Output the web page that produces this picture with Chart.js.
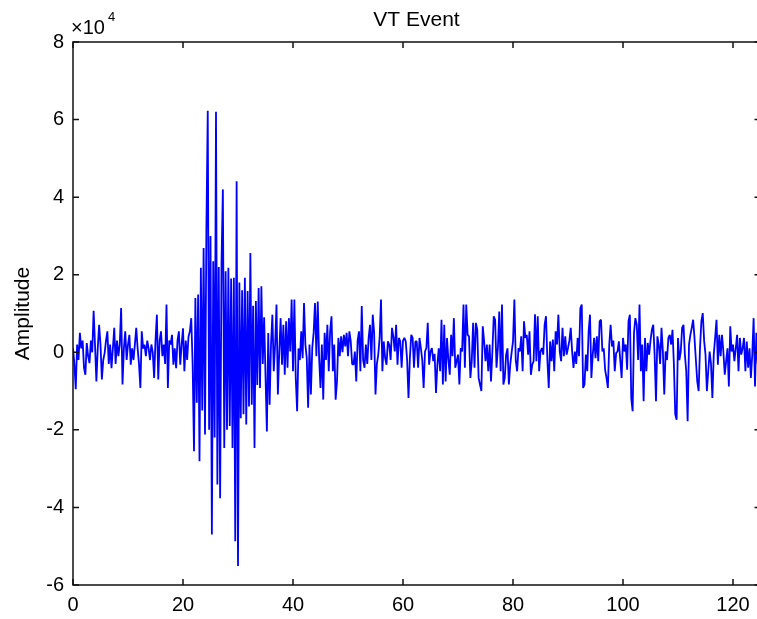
<!DOCTYPE html>
<html><head><meta charset="utf-8">
<script src="https://cdn.jsdelivr.net/npm/chart.js@4.4.1/dist/chart.umd.min.js"></script>
<style>
html,body{margin:0;padding:0;background:#fff;overflow:hidden;width:757px;height:619px;}
#wrap{position:relative;width:765px;height:619px;}
canvas{display:block;}
</style></head><body>
<div id="wrap"><canvas id="c" width="765" height="619"></canvas></div>
<script>
// Sample interval of the trace (time units per sample)
const dt = 0.25;
// Amplitude samples, in units of 10^4
const amplitude = [
0.1,-0.3,-0.95,0.2, -0.2,0.5,0.1,0.3, -0.4,-0.58,0.24,-0.1, -0.28,0.3,0.0,1.07,
0.2,-0.75,0.1,0.71, 0.2,-0.7,-0.2,-0.02, 0.3,0.54,-0.3,0.2, -0.41,0.1,0.63,-0.3,
0.3,-0.1,0.2,1.14, -0.83,0.1,0.54,-0.2, 0.2,0.45,-0.32,0.1, -0.2,0.2,0.63,0.1,
-0.3,-0.92,0.54,0.1, 0.2,-0.1,0.3,0.1, -0.2,0.2,0.0,-0.66, 0.3,0.97,-0.7,0.3,
0.54,-0.1,0.2,-0.3, 1.23,-0.92,0.3,0.2, 0.45,-0.32,0.1,-0.41, 0.3,0.54,-0.32,0.2,
0.62,-0.49,0.3,-0.2, 0.4,0.54,0.88,-0.3,
-2.55,1.4,-1.3,1.49, -2.81,2.18,-1.5,2.69, -2.12,3.16,6.23,-2.0, 3.0,-4.7,2.35,-2.2,
6.2,-3.41,2.2,-3.76, 2.3,4.2,-2.47,2.09, -2.0,2.18,-1.9,1.9, -2.47,1.92,-4.87,4.41,
-5.51,1.8,-1.7,1.6, -1.6,1.92,-1.86,1.58, -1.4,2.56,-1.35,1.2, -2.47,1.32,-0.84,1.66,
-0.92,1.70,-0.3,0.9, -0.6,-2.04,0.5,-1.35, 0.2,0.97,-0.49,0.2, 1.23,-1.09,0.0,0.88,
-0.32,0.71,-0.58,0.8, -0.4,0.88,0.02,1.36, -0.49,1.36,-0.66,-1.52, 0.1,-0.2,0.54,-0.15,
1.27,0.2,-0.15,-1.43, 0.2,-1.09,0.11,0.5, 1.27,-0.1,1.31,-0.15, -0.92,0.2,-1.22,0.5,
-0.2,0.71,-0.49,0.54, 0.93,-0.49,0.2,-1.22, -0.75,0.37,-0.1,0.41, 0.0,0.45,0.15,0.5,
-0.1,0.54,0.28,-0.3, -0.32,0.02,-0.75,0.3, 0.54,-0.49,1.19,-0.2, -0.4,0.2,-0.3,0.37,
0.71,-0.2,0.97,0.5, -1.09,-0.3,-0.06,0.37, 1.36,-0.49,0.28,-0.15, -0.32,0.28,0.2,-0.2,
0.63,0.4,0.02,0.71, -0.32,0.37,0.28,-0.4, 0.3,0.37,0.28,-0.2, -1.18,-0.15,0.45,0.37,
-0.4,0.28,0.28,-0.4, 0.37,0.11,-0.2,-0.92, 0.02,0.11,0.76,-0.32, 0.02,0.11,-0.23,-0.04,
-1.05,-0.32,0.1,-0.49, 0.84,-0.83,0.71,-0.75, 0.37,-0.19,-0.58,0.45, -0.1,0.88,-0.4,-0.23,
-0.06,-0.83,0.11,0.02, 1.23,-0.4,1.23,0.45, 0.41,-0.66,-0.23,0.76, -0.4,0.76,0.58,-0.66,
-0.83,-1.0,0.67,0.28, -0.23,0.2,-0.49,0.2, -0.75,0.02,0.93,0.84, -0.4,0.11,1.05,-0.49,
1.23,-0.83,-0.66,-0.06, 0.1,-0.83,-0.32,0.0, 0.28,1.36,-0.2,-0.49, 0.11,0.02,0.41,-0.49,
0.8,0.37,0.45,-0.06, 0.54,-0.58,-0.32,-0.23, 0.98,-0.23,0.93,-0.49, 0.02,0.11,-0.06,0.71,
0.93,-0.2,-0.92,0.28, -0.23,0.33,-0.49,0.54, 0.2,0.97,0.02,-0.23, 0.63,-0.1,0.41,-0.06,
0.11,0.3,0.63,0.02, -0.4,0.02,-0.3,0.37, -0.1,1.14,1.23,-0.92, -0.83,-0.06,-0.49,0.54,
0.97,-0.66,-0.06,0.37, -0.15,0.41,-0.23,0.8, 0.84,0.02,0.1,-0.45, -0.66,-0.92,0.2,0.71,
0.15,0.3,-0.49,-0.02, 0.02,0.28,-0.2,-0.66, 0.37,0.02,0.2,-0.45, 0.8,0.97,-1.18,-1.52,
0.5,0.88,0.71,-0.2, 1.23,-0.49,0.2,-1.26, 0.37,-0.49,0.24,-0.06, 0.3,0.58,0.71,-0.06,
-1.26,0.41,0.2,-0.3, 0.63,0.02,-1.09,0.02, -0.2,0.37,0.45,0.2, 0.58,-0.3,-1.6,-1.74,
0.37,-0.2,0.02,0.63, 0.71,-0.06,-0.49,-1.78, 0.2,0.45,0.63,0.84, 0.37,-0.2,-0.75,-1.0,
0.11,0.8,1.01,0.3, -0.06,-1.0,-0.49,0.02, -0.3,-1.18,-0.06,0.37, 0.84,-0.32,0.45,-0.1,
0.45,0.02,-0.58,-0.23, 0.1,-0.88,0.67,0.02, 0.2,-0.23,0.1,0.45, -0.49,0.37,-0.06,0.1,
0.37,-0.49,0.28,-0.4, 0.1,-0.66,-0.06,0.88, -0.88,0.5,-0.3,0.93, -0.4
];
const xTicks = [0, 20, 40, 60, 80, 100, 120];
const yTicks = [-6, -4, -2, 0, 2, 4, 6, 8];
const xRange = [0, 125];
const yRange = [-6, 8];
const titleText = 'VT Event';
const yLabelText = 'Amplitude';
const exponentBase = '\u00D710';
const exponentPower = '4';

const FONT = '"Liberation Sans", Arial, Helvetica, sans-serif';

const boxPlugin = {
  id: 'matlabBox',
  afterDraw(chart) {
    const ctx = chart.ctx, ca = chart.chartArea;
    const xs = chart.scales.x, ys = chart.scales.y;
    ctx.save();
    ctx.strokeStyle = '#111';
    ctx.lineWidth = 1.5;
    ctx.beginPath();
    ctx.rect(ca.left, ca.top, ca.right - ca.left, ca.bottom - ca.top);
    ctx.stroke();
    const tl = 6;
    ctx.beginPath();
    xTicks.forEach(v => {
      const p = xs.getPixelForValue(v);
      ctx.moveTo(p, ca.bottom); ctx.lineTo(p, ca.bottom - tl);
      ctx.moveTo(p, ca.top); ctx.lineTo(p, ca.top + tl);
    });
    yTicks.forEach(v => {
      const p = ys.getPixelForValue(v);
      ctx.moveTo(ca.left, p); ctx.lineTo(ca.left + tl, p);
      ctx.moveTo(ca.right, p); ctx.lineTo(ca.right - tl, p);
    });
    ctx.stroke();
    // texts
    ctx.fillStyle = '#000';
    ctx.font = '21px ' + FONT;
    ctx.textAlign = 'center';
    ctx.textBaseline = 'middle';
    ctx.fillText(titleText, (ca.left + 760) / 2, 20);
    ctx.save();
    ctx.translate(23, (ca.top + ca.bottom) / 2);
    ctx.rotate(-Math.PI / 2);
    ctx.fillText(yLabelText, 0, 0);
    ctx.restore();
    ctx.textAlign = 'left';
    ctx.textBaseline = 'alphabetic';
    ctx.font = '20px ' + FONT;
    ctx.fillText(exponentBase, 71, 34);
    const w = ctx.measureText(exponentBase).width;
    ctx.font = '13px ' + FONT;
    ctx.fillText(exponentPower, 71 + w + 3, 21);
    ctx.restore();
  }
};

new Chart(document.getElementById('c'), {
  type: 'line',
  data: {
    datasets: [{
      data: amplitude.map((v, i) => ({ x: i * dt, y: v })),
      borderColor: '#0000ff',
      borderWidth: 1.8,
      borderJoinStyle: 'bevel',
      borderCapStyle: 'butt',
      pointRadius: 0,
      tension: 0,
      fill: false
    }]
  },
  options: {
    responsive: false,
    devicePixelRatio: 1,
    animation: false,
    events: [],
    layout: { padding: { left: 0, top: 42, right: 4.5, bottom: 0 } },
    plugins: { legend: { display: false }, tooltip: { enabled: false }, title: { display: false } },
    scales: {
      x: {
        type: 'linear', min: xRange[0], max: xRange[1],
        grid: { display: false, drawTicks: false },
        border: { display: false },
        afterBuildTicks: s => { s.ticks = xTicks.map(v => ({ value: v })); },
        afterFit: s => { s.height = 34; },
        ticks: { color: '#000', font: { size: 20, family: FONT }, padding: 8, maxRotation: 0, autoSkip: false,
          callback: v => String(v) }
      },
      y: {
        type: 'linear', min: yRange[0], max: yRange[1],
        grid: { display: false, drawTicks: false },
        border: { display: false },
        afterBuildTicks: s => { s.ticks = yTicks.map(v => ({ value: v })); },
        afterFit: s => { s.width = 73; },
        ticks: { color: '#000', font: { size: 20, family: FONT }, padding: 9, autoSkip: false,
          callback: v => String(v) }
      }
    }
  },
  plugins: [boxPlugin]
});
</script>
</body></html>
